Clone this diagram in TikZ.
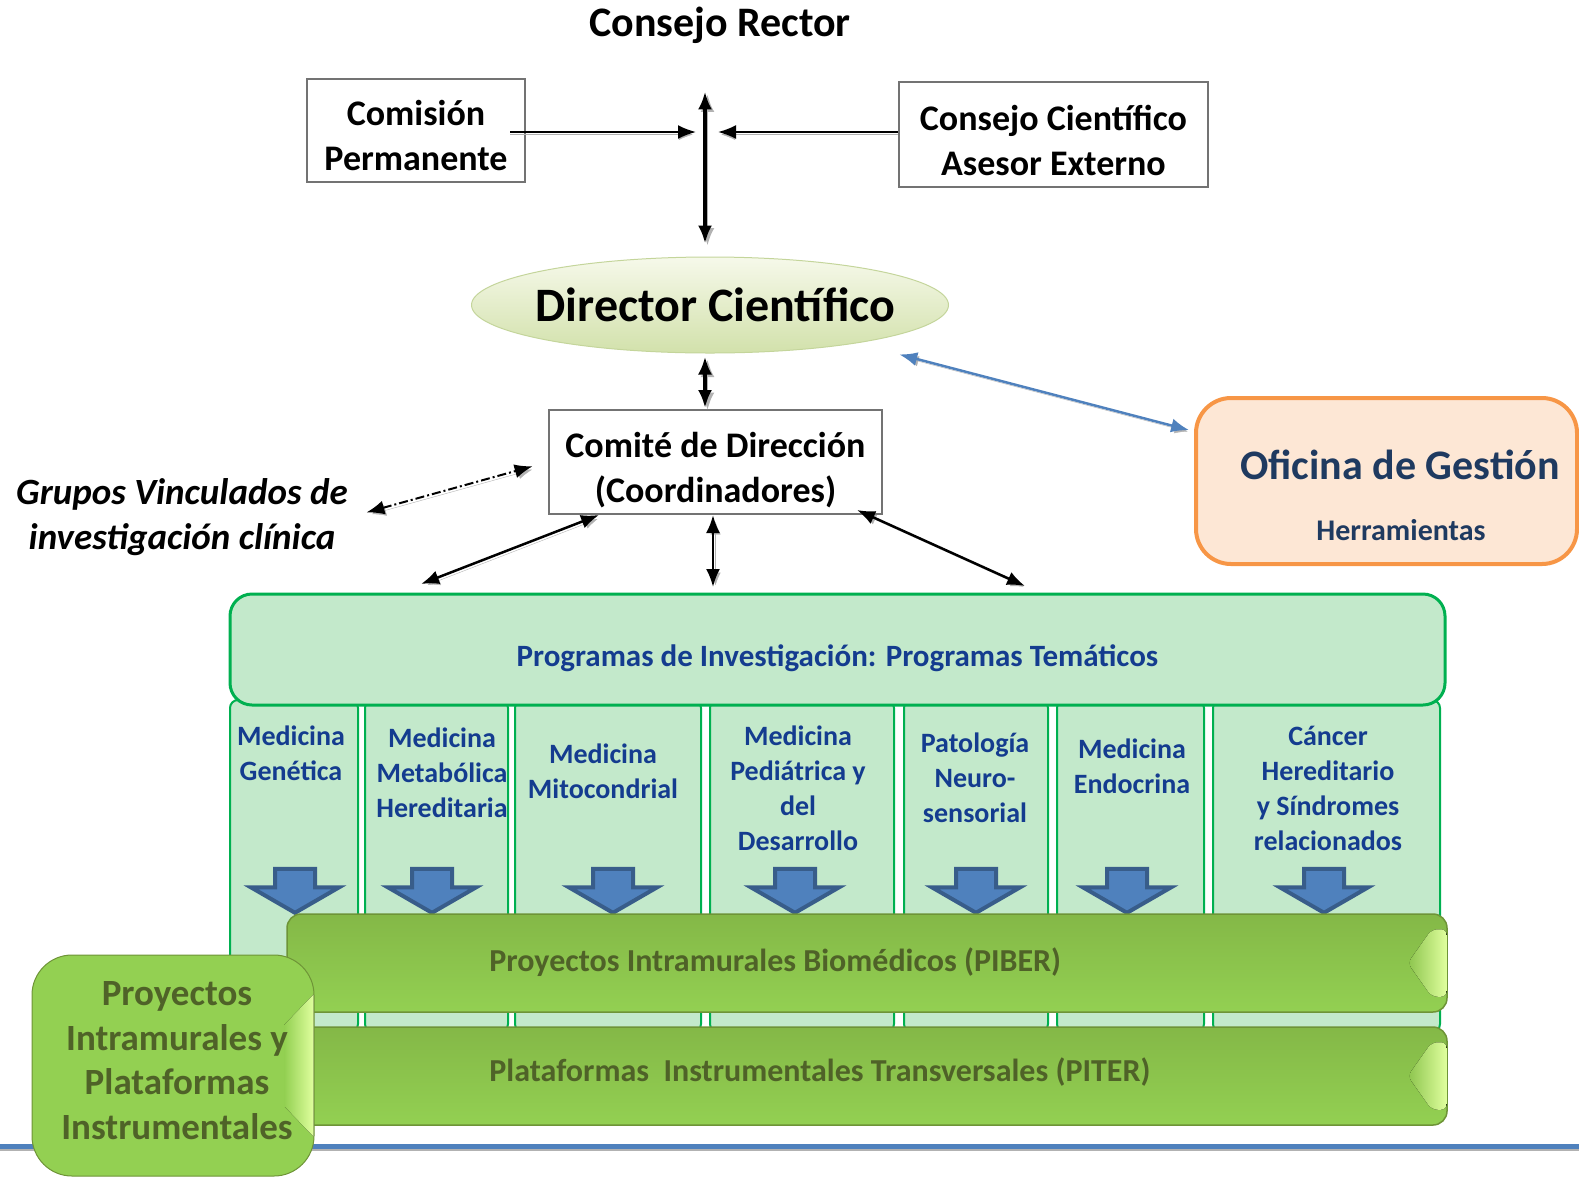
\documentclass[tikz,border=0pt]{standalone}
\usepackage{fontspec}
\usepackage{xcolor}
\usepackage{tikz}
\usetikzlibrary{shapes.geometric,shapes.arrows,arrows.meta}
\setmainfont{Carlito}

\definecolor{progfill}{HTML}{C3E9CB}
\definecolor{progline}{HTML}{00B050}
\definecolor{progtext}{HTML}{143C8F}
\definecolor{arrfill}{HTML}{4F81BD}
\definecolor{arrline}{HTML}{385D8A}
\definecolor{bartop}{HTML}{84B847}
\definecolor{barbot}{HTML}{93D052}
\definecolor{barmid}{HTML}{8CC44D}
\definecolor{barhi}{HTML}{E0FF9E}
\definecolor{barline}{HTML}{6E9437}
\definecolor{bartext}{HTML}{4F6228}
\definecolor{offline}{HTML}{F79646}
\definecolor{offfill}{HTML}{FDE7D5}
\definecolor{offtext}{HTML}{1F3A60}
\definecolor{dirtop}{HTML}{F6F9EA}
\definecolor{dirbot}{HTML}{D2E1AB}
\definecolor{dirline}{HTML}{C4D59B}

\begin{document}
\begin{tikzpicture}[x=1pt, y=-1pt,
	box/.style={draw=black!55, line width=2pt, fill=white, align=center, inner sep=0pt, font=\fontsize{36}{45}\selectfont\bfseries},
	link/.style={line width=2.5pt, {Latex[length=18pt,width=14pt]}-{Latex[length=18pt,width=14pt]}, preaction={draw=black!30, transform canvas={shift={(2.5pt,-2.5pt)}}}},
	heavy/.style={link, line width=4pt},
	onelink/.style={line width=2pt, -{Latex[length=18pt,width=14pt]}, preaction={draw=black!30, transform canvas={shift={(0pt,-2.5pt)}}}},
	dotlink/.style={link, line width=2pt, dash pattern=on 9pt off 3pt on 2pt off 3pt},
	bluelink/.style={link, draw=arrfill, line width=2.5pt},
	director/.style={ellipse, draw=dirline, line width=1pt, top color=dirtop, bottom color=dirbot, minimum width=477pt, minimum height=96pt, inner sep=0pt, font=\fontsize{48}{56}\selectfont\bfseries},
	office/.style={draw=offline, line width=4pt, fill=offfill, rounded corners=35pt, minimum width=381pt, minimum height=166pt},
	col/.style={draw=progline, line width=2pt, fill=progfill, rounded corners=8pt, minimum height=332pt, inner sep=0pt},
	coltxt/.style={text=progtext, align=center, inner sep=0pt, font=\fontsize{28}{35}\selectfont\bfseries},
	down/.style={single arrow, shape border rotate=270, draw=arrline, line width=4pt, fill=arrfill, text width=36pt, inner sep=0pt, minimum height=44pt, single arrow head extend=24pt, single arrow tip angle=120},
	bar/.style={draw=barline, line width=1.5pt, top color=bartop, bottom color=barbot, rounded corners=14pt, minimum width=1160pt, minimum height=98pt},
	shine/.style={left color=barmid, right color=barhi, rounded corners=6pt},
	bartxt/.style={text=bartext, inner sep=0pt, font=\fontsize{32}{38}\selectfont\bfseries},
	greenbox/.style={draw=barline, line width=1pt, fill=barbot, rounded corners=40pt, minimum width=282pt, minimum height=221pt},
	greentxt/.style={align=center, inner sep=0pt, text=bartext, font=\fontsize{37}{44.5}\selectfont\bfseries}]
	\useasboundingbox (0,0) rectangle (1579,1179);

	\node[inner sep=2pt, font=\fontsize{42}{50}\selectfont\bfseries] at (720,25) (rector){Consejo Rector};
	\node[box, minimum width=218pt, minimum height=103pt] at (416,130.5) (comision){\rule{0pt}{36pt}Comisión\\Permanente};
	\node[box, minimum width=309pt, minimum height=105pt] at (1053.5,134.5) (consejo){\rule{0pt}{38pt}Consejo Científico\\Asesor Externo};
	\node[director] at (710,305) (director){\makebox[0pt]{\hspace{11pt}Director Científico}};
	\node[box, minimum width=333pt, minimum height=104pt] at (715.5,462) (comite){\rule{0pt}{41pt}Comité de Dirección\\(Coordinadores)};
	\node[align=center, inner sep=2pt, font=\fontsize{37}{45}\selectfont\bfseries\itshape] at (182,517) (grupos){Grupos Vinculados de\\investigación clínica};
	\node[office] at (1386.5,481) (oficina){};
	\node[text=offtext, inner sep=0pt, font=\fontsize{42}{50}\selectfont\bfseries] at (1400,465) (gestion){Oficina de Gestión};
	\node[text=offtext, inner sep=0pt, font=\fontsize{30}{36}\selectfont\bfseries] at (1401,530) (herramientas){Herramientas};

	\coordinate (axisL) at (696,132);
	\coordinate (axisR) at (718,132);
	\coordinate (progL) at (421,584);
	\coordinate (progM) at (713,587);
	\coordinate (progR) at (1025,586);

	\draw[heavy, shorten <=46pt, shorten >=13pt] ([xshift=-15pt]rector.south) -- ([xshift=-5pt]director.north);
	\draw[onelink, shorten <=-16pt] (comision.east |- axisL) -- (axisL);
	\draw[onelink] (consejo.west |- axisR) -- (axisR);
	\draw[heavy, shorten <=3pt, shorten >=1pt] ([xshift=-5pt]director.south) -- ([xshift=-10.5pt]comite.north);
	\draw[dotlink, shorten <=17pt, shorten >=16pt] (grupos.east) -- (comite.west);
	\draw[bluelink, shorten <=44pt, shorten >=5pt] (director) -- (oficina);
	\draw[link] ([xshift=51pt]comite.south west) -- (progL);
	\draw[link] (comite.south -| progM) -- (progM);
	\draw[link] ([xshift=-26pt,yshift=5pt]comite.south east) -- (progR);

	\node[col, minimum width=128pt] at (294,866) (genetica){};
	\node[col, minimum width=143pt] at (436.5,866) (metabolica){};
	\node[col, minimum width=186pt] at (608,866) (mitocondrial){};
	\node[col, minimum width=184pt] at (802,866) (pediatrica){};
	\node[col, minimum width=144pt] at (976,866) (neuro){};
	\node[col, minimum width=147pt] at (1130.5,866) (endocrina){};
	\node[col, minimum width=227pt] at (1326.5,866) (cancer){};

	\node[draw=progline, line width=3pt, fill=progfill, rounded corners=22pt, minimum width=1215pt, minimum height=111pt, text height=34pt, text depth=0pt, text=progtext, font=\fontsize{31}{37}\selectfont\bfseries] at (837.5,649.5) (programas){Programas de Investigación: Programas Temáticos};

	\node[coltxt] at (291,753) (genetica-t){Medicina\\Genética};
	\node[coltxt] at (442,773) (metabolica-t){Medicina\\Metabólica\\Hereditaria};
	\node[coltxt] at (603,771) (mitocondrial-t){Medicina\\Mitocondrial};
	\node[coltxt] at (798,788) (pediatrica-t){Medicina\\Pediátrica y\\del\\Desarrollo};
	\node[coltxt] at (975,778) (neuro-t){Patología\\Neuro-\\sensorial};
	\node[coltxt] at (1132,766) (endocrina-t){Medicina\\Endocrina};
	\node[coltxt] at (1328,788) (cancer-t){Cáncer\\Hereditario\\y Síndromes\\relacionados};

	\node[down] at (295,885) (d1){};
	\node[down] at (432,885) (d2){};
	\node[down] at (613,885) (d3){};
	\node[down] at (795,885) (d4){};
	\node[down] at (976,885) (d5){};
	\node[down] at (1127,885) (d6){};
	\node[down] at (1324,885) (d7){};

	\node[bar] at (867,963) (piber){};
	\fill[shine] ([xshift=-40pt]piber.east) -- ([xshift=-16pt,yshift=-16pt]piber.north east) -- ([xshift=-1pt,yshift=-16pt]piber.north east) -- ([xshift=-1pt,yshift=16pt]piber.south east) -- ([xshift=-16pt,yshift=16pt]piber.south east) -- cycle;
	\node[bartxt, anchor=west] at ([xshift=203pt,yshift=1pt]piber.west) (piber-t){Proyectos Intramurales Biomédicos (PIBER)};
	\node[bar] at (867,1076) (piter){};
	\fill[shine] ([xshift=-40pt]piter.east) -- ([xshift=-16pt,yshift=-16pt]piter.north east) -- ([xshift=-1pt,yshift=-16pt]piter.north east) -- ([xshift=-1pt,yshift=16pt]piter.south east) -- ([xshift=-16pt,yshift=16pt]piter.south east) -- cycle;
	\node[bartxt, anchor=west] at ([xshift=203pt,yshift=4pt]piter.west) (piter-t){Plataformas\ \ Instrumentales Transversales (PITER)};

	\draw[line width=2.5pt, black!30] (0,1150) -- (1579,1150);
	\draw[line width=5pt, arrfill] (0,1146) -- (1579,1146);

	\node[greenbox] at (173,1065.5) (proyectos){};
	\fill[left color=barbot, right color=barhi] ([xshift=-30pt,yshift=-70pt]proyectos.north east) -- ([xshift=-1pt,yshift=-40pt]proyectos.north east) -- ([xshift=-1pt,yshift=40pt]proyectos.south east) -- ([xshift=-30pt,yshift=70pt]proyectos.south east) -- cycle;
	\node[greentxt] at ([xshift=4pt,yshift=5pt]proyectos.center) (proyectos-t){Proyectos\\Intramurales y\\Plataformas\\Instrumentales};

\end{tikzpicture}
\end{document}
